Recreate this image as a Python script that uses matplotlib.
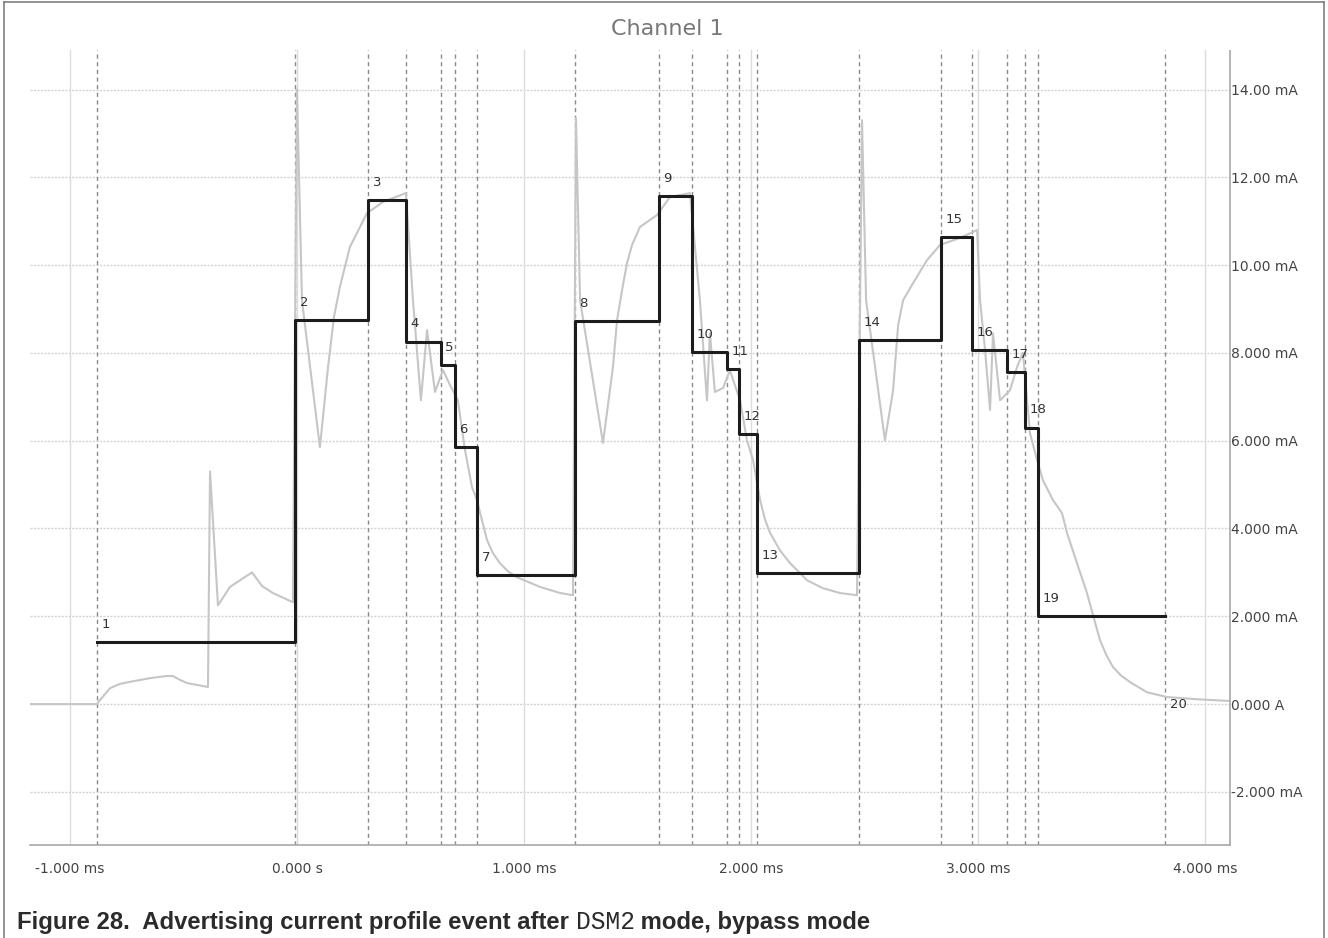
import matplotlib
matplotlib.use("Agg")
import matplotlib.pyplot as plt
from matplotlib.lines import Line2D

# event markers (ms) and the current level held after each marker (mA)
marker_t = [-0.881, -0.008, 0.313, 0.480, 0.634, 0.696, 0.793, 1.225, 1.595,
            1.740, 1.894, 1.947, 2.026, 2.476, 2.837, 2.974, 3.128, 3.207,
            3.264, 3.824]
step_ma = [1.41, 8.74, 11.48, 8.25, 7.72, 5.85, 2.94, 8.72, 11.57, 8.02,
           7.63, 6.15, 2.98, 8.29, 10.64, 8.06, 7.56, 6.29, 2.00]
marker_labels = [str(i) for i in range(1, 21)]

# measured current trace
trace_t = [-1.18, -0.881, -0.868, -0.824, -0.780, -0.722, -0.648, -0.573,
           -0.546, -0.515, -0.485, -0.392, -0.383, -0.348, -0.295, -0.198,
           -0.154, -0.106, -0.018, 0.000, 0.022, 0.101, 0.137, 0.163, 0.189,
           0.233, 0.308, 0.379, 0.480, 0.511, 0.546, 0.573, 0.608, 0.643,
           0.674, 0.709, 0.740, 0.771, 0.793, 0.806, 0.837, 0.863, 0.894,
           0.930, 0.969, 1.070, 1.159, 1.216, 1.229, 1.247, 1.348, 1.392,
           1.410, 1.432, 1.454, 1.476, 1.511, 1.586, 1.643, 1.731, 1.775,
           1.806, 1.819, 1.841, 1.877, 1.907, 1.952, 1.982, 2.009, 2.040,
           2.062, 2.084, 2.128, 2.172, 2.247, 2.317, 2.392, 2.467, 2.489,
           2.507, 2.590, 2.626, 2.648, 2.670, 2.714, 2.775, 2.833, 2.921,
           2.996, 3.009, 3.031, 3.053, 3.066, 3.097, 3.141, 3.172, 3.198,
           3.229, 3.260, 3.286, 3.330, 3.370, 3.392, 3.436, 3.480, 3.537,
           3.565, 3.595, 3.630, 3.670, 3.744, 3.833, 3.965, 4.110]
trace_ma = [0.00, 0.00, 0.09, 0.36, 0.46, 0.52, 0.59, 0.64,
            0.64, 0.55, 0.48, 0.39, 5.30, 2.25, 2.67, 3.00,
            2.69, 2.53, 2.32, 14.00, 9.20, 5.85, 7.68, 8.82, 9.50,
            10.41, 11.18, 11.44, 11.64, 9.20, 6.92, 8.52, 7.11, 7.61,
            7.27, 6.92, 5.79, 4.94, 4.65, 4.37, 3.74, 3.44, 3.21,
            3.02, 2.89, 2.67, 2.53, 2.48, 13.35, 9.20, 5.95, 7.68,
            8.75, 9.43, 10.05, 10.46, 10.87, 11.14, 11.55, 11.64, 9.20,
            6.92, 8.45, 7.11, 7.20, 7.60, 6.92, 6.01, 5.56, 4.65,
            4.20, 3.90, 3.50, 3.21, 2.82, 2.64, 2.53, 2.48, 13.30,
            9.20, 6.01, 7.15, 8.63, 9.20, 9.59, 10.11, 10.46, 10.62,
            10.80, 9.20, 8.06, 6.70, 8.45, 6.92, 7.15, 7.68, 8.00,
            6.17, 5.56, 5.10, 4.65, 4.35, 3.90, 3.21, 2.53, 1.46,
            1.12, 0.84, 0.65, 0.50, 0.27, 0.16, 0.11, 0.07]

x_ticks = [-1, 0, 1, 2, 3, 4]
x_tick_labels = ["-1.000 ms", "0.000 s", "1.000 ms", "2.000 ms", "3.000 ms",
                 "4.000 ms"]
y_ticks = [-2, 0, 2, 4, 6, 8, 10, 12, 14]
y_tick_labels = ["-2.000 mA", "0.000 A", "2.000 mA", "4.000 mA", "6.000 mA",
                 "8.000 mA", "10.00 mA", "12.00 mA", "14.00 mA"]

W, H = 1328, 938
fig = plt.figure(figsize=(W / 100, H / 100), dpi=100)
ax = fig.add_axes([30 / W, 1 - 845 / H, 1200 / W, 795 / H])
ax.set_xlim(-1.176, 4.110)
ax.set_ylim(-3.21, 14.90)

# grid
for yv in y_ticks:
    ax.axhline(yv, color="#d2d2d2", lw=1, ls=(0, (1.5, 1)), zorder=0)
for xv in x_ticks:
    ax.axvline(xv, color="#dcdcdc", lw=1, zorder=0)

# event marker lines
for t in marker_t:
    ax.axvline(t, color="#8a8a8a", lw=1, ls=(0, (3, 2.5)), zorder=1)

ax.plot(trace_t, trace_ma, color="#c6c6c6", lw=1.5, zorder=2)
ax.step(marker_t, step_ma + [step_ma[-1]], where="post", color="#1c1c1c",
        lw=2.2, zorder=3)

# event numbers
dx = 0.02
for t, lvl, lab in zip(marker_t, step_ma, marker_labels):
    ax.text(t + dx, lvl + 0.41, lab, fontsize=9.5, color="#333333",
            ha="left", va="center", zorder=4)
ax.text(marker_t[-1] + dx, 0.0, marker_labels[-1], fontsize=9.5,
        color="#333333", ha="left", va="center", zorder=4)

ax.set_xticks(x_ticks)
ax.set_xticklabels(x_tick_labels)
ax.set_yticks(y_ticks)
ax.set_yticklabels(y_tick_labels)
ax.yaxis.tick_right()
ax.tick_params(axis="x", length=0, pad=12.5, labelsize=10, labelcolor="#444444")
ax.tick_params(axis="y", length=0, pad=1, labelsize=10, labelcolor="#444444")
for side in ("top", "left"):
    ax.spines[side].set_visible(False)
for side in ("bottom", "right"):
    ax.spines[side].set_color("#a8a8a8")
    ax.spines[side].set_linestyle((0, (1.5, 1)))
    ax.spines[side].set_linewidth(1.2)

fig.text(667 / W, 1 - 29 / H, "Channel 1", fontsize=16, color="#777777",
         ha="center", va="center")

# figure frame, open at the bottom
frame = dict(color="#808080", lw=1.2, transform=fig.transFigure)
fig.add_artist(Line2D([4 / W, 4 / W], [0, 1 - 2 / H], **frame))
fig.add_artist(Line2D([1324 / W, 1324 / W], [0, 1 - 2 / H], **frame))
fig.add_artist(Line2D([4 / W, 1324 / W], [1 - 2 / H, 1 - 2 / H], **frame))

# caption with the mode name in a monospace face
renderer = fig.canvas.get_renderer()
cap_y = 1 - 929 / H
parts = [("Figure 28.  Advertising current profile event after ",
          dict(family="Liberation Sans", weight="bold", fontsize=17.2)),
         ("DSM2", dict(family="Liberation Mono", fontsize=17.7)),
         (" mode, bypass mode",
          dict(family="Liberation Sans", weight="bold", fontsize=17.2))]
x0 = 17 / W
for txt, kw in parts:
    t = fig.text(x0, cap_y, txt, color="#2b2b2b", ha="left",
                 va="baseline", **kw)
    bb = t.get_window_extent(renderer)
    x0 = bb.x1 / W

fig.savefig("out.png", dpi=100)
